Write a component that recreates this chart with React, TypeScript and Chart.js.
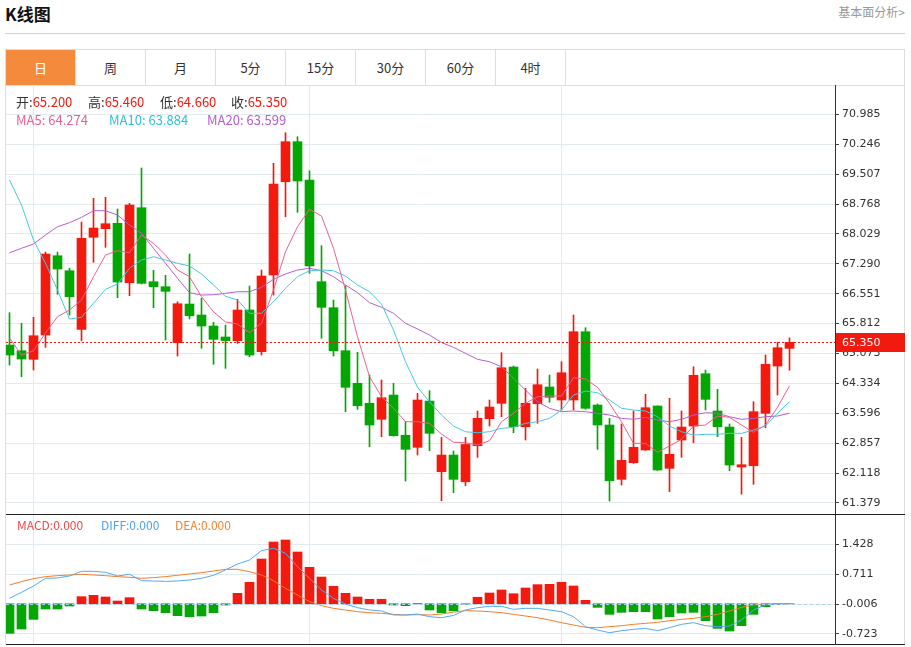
import React, { useEffect, useRef } from 'react';
import { Chart, registerables } from 'chart.js';

Chart.register(...registerables);

const OPEN = [65.283, 65.142, 64.93, 65.53, 67.49, 67.119, 65.671, 67.945, 68.158, 68.291, 66.823, 68.677, 66.848, 66.724, 65.34, 66.296, 66.025, 65.753, 65.481, 65.389, 66.148, 65.118, 67.013, 69.319, 70.308, 69.361, 66.848, 66.205, 65.142, 64.336, 63.842, 63.447, 64.047, 63.052, 62.755, 63.899, 62.152, 62.564, 61.904, 62.794, 63.461, 63.842, 64.739, 63.264, 63.832, 64.245, 63.924, 63.924, 65.612, 63.8, 63.306, 61.964, 62.374, 62.688, 63.776, 62.236, 62.935, 63.281, 64.574, 63.652, 63.256, 62.268, 62.3, 63.595, 64.764, 65.2];
const HIGH = [66.081, 65.819, 65.968, 67.58, 67.58, 67.179, 68.323, 68.909, 68.934, 68.644, 68.785, 69.658, 67.129, 67.006, 66.353, 67.532, 66.437, 65.844, 65.777, 66.413, 66.741, 67.137, 69.774, 70.53, 70.431, 69.591, 67.737, 66.395, 66.741, 65.103, 64.542, 64.418, 64.336, 63.387, 64.089, 64.154, 63.001, 62.663, 63.001, 63.652, 63.924, 65.093, 64.764, 64.213, 64.69, 64.542, 64.87, 66.025, 65.711, 63.825, 63.471, 63.331, 63.652, 64.065, 63.78, 63.966, 63.652, 64.747, 64.665, 64.188, 63.331, 63.001, 63.882, 65.036, 65.35, 65.46];
const LOW = [64.789, 64.5, 64.665, 65.226, 66.536, 66.025, 65.389, 67.327, 67.698, 66.452, 66.502, 66.79, 66.205, 65.407, 65.011, 65.926, 65.202, 64.806, 64.707, 65.325, 64.994, 65.036, 66.519, 68.454, 68.563, 67.055, 65.449, 65.011, 63.635, 63.694, 62.769, 63.017, 63.03, 61.922, 62.564, 62.671, 61.435, 61.633, 61.805, 62.507, 63.281, 63.511, 63.116, 62.935, 63.348, 63.867, 63.677, 63.677, 63.694, 62.705, 61.427, 61.823, 62.359, 62.68, 62.18, 61.657, 62.507, 62.868, 63.677, 63.017, 62.176, 61.6, 61.84, 63.239, 64.047, 64.66];
const CLOSE = [65.036, 64.937, 65.513, 67.532, 67.161, 66.477, 67.92, 68.175, 68.281, 66.84, 68.743, 66.808, 66.724, 66.61, 66.304, 66.007, 65.753, 65.424, 65.389, 66.148, 65.036, 66.988, 69.262, 70.308, 69.337, 67.236, 66.215, 65.142, 64.238, 63.783, 63.306, 63.981, 63.042, 62.705, 63.924, 63.101, 62.564, 61.964, 62.826, 63.471, 63.751, 64.722, 63.264, 63.842, 64.302, 63.99, 64.598, 65.612, 63.719, 63.306, 61.929, 62.433, 62.755, 63.734, 62.194, 62.582, 63.256, 64.534, 63.941, 63.264, 62.317, 62.325, 63.635, 64.806, 65.216, 65.35];

const MA5 = [65.456, 65.036, 65.142, 65.58, 65.983, 66.148, 66.395, 66.971, 67.507, 67.614, 67.564, 68.002, 67.797, 67.507, 67.137, 66.971, 66.477, 66.106, 65.852, 65.802, 65.587, 65.819, 66.642, 67.589, 68.207, 68.637, 68.471, 67.673, 66.642, 65.488, 64.5, 64.005, 63.719, 63.387, 63.387, 63.348, 63.083, 62.881, 62.868, 62.812, 62.918, 63.387, 63.595, 63.842, 64.005, 64.023, 64.023, 64.475, 64.443, 64.238, 63.842, 63.387, 62.854, 62.854, 62.631, 62.787, 62.952, 63.281, 63.306, 63.528, 63.496, 63.306, 63.125, 63.306, 63.743, 64.274];
const MA10 = [69.361, 68.743, 67.878, 67.302, 66.642, 65.926, 65.968, 66.314, 66.66, 66.791, 67.179, 67.384, 67.465, 67.384, 67.302, 67.236, 67.038, 66.766, 66.487, 66.395, 66.067, 66.067, 66.353, 66.685, 66.971, 67.119, 67.137, 67.119, 66.988, 66.766, 66.6, 66.296, 65.654, 64.87, 64.238, 63.882, 63.553, 63.281, 63.14, 63.116, 63.14, 63.224, 63.249, 63.348, 63.387, 63.471, 63.677, 64.047, 64.146, 64.104, 63.924, 63.719, 63.677, 63.652, 63.511, 63.281, 63.14, 63.059, 63.076, 63.076, 63.101, 63.101, 63.182, 63.281, 63.595, 63.884];
const MA20 = [67.564, 67.673, 67.779, 68.002, 68.207, 68.306, 68.439, 68.602, 68.602, 68.496, 68.249, 68.044, 67.673, 67.302, 66.932, 66.576, 66.519, 66.526, 66.561, 66.6, 66.6, 66.709, 66.907, 67.038, 67.137, 67.179, 67.119, 66.971, 66.766, 66.576, 66.329, 66.215, 66.067, 65.819, 65.679, 65.53, 65.345, 65.226, 65.078, 64.93, 64.87, 64.747, 64.46, 64.171, 63.882, 63.719, 63.635, 63.652, 63.635, 63.595, 63.553, 63.471, 63.447, 63.496, 63.429, 63.387, 63.447, 63.553, 63.61, 63.595, 63.511, 63.447, 63.471, 63.511, 63.528, 63.599];

const MACD = [-0.71, -0.606, -0.374, -0.126, -0.126, -0.054, 0.17, 0.202, 0.162, 0.066, 0.146, -0.126, -0.166, -0.214, -0.286, -0.31, -0.294, -0.214, -0.03, 0.25, 0.514, 1.073, 1.481, 1.529, 1.241, 0.874, 0.641, 0.418, 0.25, 0.162, 0.107, 0.107, -0.03, -0.046, 0.005, -0.15, -0.214, -0.17, -0.01, 0.155, 0.258, 0.33, 0.241, 0.378, 0.458, 0.466, 0.514, 0.426, 0.083, -0.086, -0.254, -0.206, -0.19, -0.19, -0.366, -0.31, -0.222, -0.206, -0.406, -0.59, -0.654, -0.526, -0.254, -0.07, -0.01, 0];
const DIFF = [0.13, 0.274, 0.426, 0.61, 0.618, 0.666, 0.778, 0.778, 0.754, 0.666, 0.706, 0.553, 0.545, 0.537, 0.545, 0.57, 0.61, 0.682, 0.81, 0.953, 1.049, 1.273, 1.33, 1.209, 0.889, 0.61, 0.33, 0.13, -0.006, -0.094, -0.15, -0.174, -0.27, -0.27, -0.246, -0.31, -0.334, -0.28, -0.15, -0.094, -0.062, -0.062, -0.134, -0.11, -0.11, -0.15, -0.19, -0.31, -0.55, -0.63, -0.694, -0.646, -0.614, -0.59, -0.646, -0.574, -0.494, -0.454, -0.526, -0.55, -0.534, -0.39, -0.15, -0.03, -0.006, 0];
const DEA = [0.45, 0.53, 0.602, 0.65, 0.674, 0.69, 0.706, 0.69, 0.674, 0.65, 0.634, 0.61, 0.626, 0.65, 0.682, 0.714, 0.746, 0.786, 0.826, 0.826, 0.77, 0.69, 0.553, 0.37, 0.21, 0.05, -0.046, -0.11, -0.15, -0.19, -0.214, -0.23, -0.254, -0.27, -0.262, -0.27, -0.246, -0.2, -0.166, -0.174, -0.19, -0.214, -0.254, -0.294, -0.334, -0.39, -0.454, -0.51, -0.566, -0.574, -0.55, -0.526, -0.494, -0.47, -0.446, -0.406, -0.374, -0.35, -0.31, -0.254, -0.174, -0.086, -0.03, -0.006, 0, 0];

const PRICE_TICKS = [70.985, 70.246, 69.507, 68.768, 68.029, 67.29, 66.551, 65.812, 65.073, 64.334, 63.596, 62.857, 62.118, 61.379];
const MACD_TICKS = [1.428, 0.711, -0.006, -0.723];
const MONTH_START = [2, 25, 46];
const LAST_PRICE = 65.35;
const TABS = ['日', '周', '月', '5分', '15分', '30分', '60分', '4时'];

const RED = '#f2190e';
const GREEN = '#04a604';
const GRID = '#e2eaf0';
const C_MA5 = '#ec5f90';
const C_MA10 = '#45c8df';
const C_MA20 = '#b35fcc';
const C_DIFF = '#55a8ef';
const C_DEA = '#f47c2a';
const AXIS_FONT = { family: '"DejaVu Sans", sans-serif', size: 11 };

const X_MIN = -0.2917;
const X_MAX = 68.7917;

function xScale() {
  return {
    type: 'linear' as const,
    min: X_MIN,
    max: X_MAX,
    offset: false,
    afterBuildTicks: (s: any) => {
      s.ticks = MONTH_START.map((v) => ({ value: v }));
    },
    afterFit: (s: any) => {
      s.height = 0;
      s.paddingLeft = 0;
      s.paddingRight = 0;
    },
    grid: { color: GRID, drawTicks: false, offset: false },
    border: { display: false },
    ticks: { display: false },
  };
}

function yScale(min: number, max: number, ticks: number[]) {
  return {
    position: 'right' as const,
    min,
    max,
    afterBuildTicks: (s: any) => {
      s.ticks = ticks.map((v) => ({ value: v }));
    },
    afterFit: (s: any) => {
      s.width = 70;
      s.paddingTop = 0;
      s.paddingBottom = 0;
    },
    grid: { color: GRID, tickColor: '#444', tickLength: 4, drawTicks: true },
    border: { display: true, color: '#333' },
    ticks: {
      padding: 3,
      color: '#333',
      font: AXIS_FONT,
      callback: (v: any) => Number(v).toFixed(3),
    },
  };
}

const lastPricePlugin = {
  id: 'lastPrice',
  afterDraw(chart: any) {
    const { ctx, chartArea, scales } = chart;
    const y = Math.round(scales.y.getPixelForValue(LAST_PRICE)) + 0.5;
    ctx.save();
    ctx.strokeStyle = RED;
    ctx.lineWidth = 1;
    ctx.setLineDash([2, 2]);
    ctx.beginPath();
    ctx.moveTo(chartArea.left, y);
    ctx.lineTo(chartArea.right, y);
    ctx.stroke();
    ctx.setLineDash([]);
    ctx.fillStyle = RED;
    ctx.fillRect(chartArea.right + 1, y - 9.5, chart.width - chartArea.right - 1, 19);
    ctx.fillStyle = '#ffffff';
    ctx.font = '11px "DejaVu Sans", sans-serif';
    ctx.textBaseline = 'middle';
    ctx.textAlign = 'left';
    ctx.fillText(LAST_PRICE.toFixed(3), chartArea.right + 7, y + 0.5);
    ctx.restore();
  },
};

const zeroLinePlugin = {
  id: 'zeroLine',
  afterDatasetsDraw(chart: any) {
    const { ctx, chartArea, scales } = chart;
    const y = Math.round(scales.y.getPixelForValue(0)) + 0.5;
    ctx.save();
    ctx.strokeStyle = '#a9d3ee';
    ctx.lineWidth = 1;
    ctx.setLineDash([3, 3]);
    ctx.beginPath();
    ctx.moveTo(chartArea.left, y);
    ctx.lineTo(chartArea.right, y);
    ctx.stroke();
    ctx.restore();
  },
};

export default function App() {
  const priceRef = useRef<HTMLCanvasElement>(null);
  const macdRef = useRef<HTMLCanvasElement>(null);

  useEffect(() => {
    const idx = CLOSE.map((_, i) => i);
    const candleColors = idx.map((i) => (CLOSE[i] >= OPEN[i] ? RED : GREEN));
    const line = (arr: number[], color: string, order: number) => ({
      type: 'line' as const,
      data: arr.map((v, i) => ({ x: i, y: v })),
      borderColor: color,
      borderWidth: 1,
      pointRadius: 0,
      tension: 0,
      fill: false,
      order,
    });

    const price = new Chart(priceRef.current as HTMLCanvasElement, {
      type: 'bar',
      data: {
        datasets: [
          line(MA5, C_MA5, 0) as any,
          line(MA10, C_MA10, 0) as any,
          line(MA20, C_MA20, 0) as any,
          {
            type: 'bar',
            data: idx.map((i) => ({ x: i, y: [OPEN[i], CLOSE[i]] })),
            backgroundColor: candleColors,
            borderWidth: 0,
            barThickness: 9,
            minBarLength: 1,
            grouped: false,
            order: 1,
          } as any,
          {
            type: 'bar',
            data: idx.map((i) => ({ x: i, y: [LOW[i], HIGH[i]] })),
            backgroundColor: candleColors,
            borderWidth: 0,
            barThickness: 1,
            grouped: false,
            order: 2,
          } as any,
        ],
      },
      options: {
        animation: false,
        responsive: false,
        devicePixelRatio: 1,
        events: [],
        layout: { padding: 0 },
        plugins: { legend: { display: false }, tooltip: { enabled: false } },
        scales: {
          x: xScale() as any,
          y: yScale(61.107, 71.709, PRICE_TICKS) as any,
        },
      },
      plugins: [lastPricePlugin],
    });

    const macd = new Chart(macdRef.current as HTMLCanvasElement, {
      type: 'bar',
      data: {
        datasets: [
          line(DIFF, C_DIFF, 0) as any,
          line(DEA, C_DEA, 0) as any,
          {
            type: 'bar',
            data: idx.map((i) => ({ x: i, y: MACD[i] })),
            backgroundColor: MACD.map((v) => (v >= 0 ? RED : GREEN)),
            borderWidth: 0,
            barThickness: 9,
            grouped: false,
            order: 1,
          } as any,
        ],
      },
      options: {
        animation: false,
        responsive: false,
        devicePixelRatio: 1,
        events: [],
        layout: { padding: 0 },
        plugins: { legend: { display: false }, tooltip: { enabled: false } },
        scales: {
          x: xScale() as any,
          y: yScale(-0.965, 2.152, MACD_TICKS) as any,
        },
      },
      plugins: [zeroLinePlugin],
    });

    return () => {
      price.destroy();
      macd.destroy();
    };
  }, []);

  const abs = (s: React.CSSProperties): React.CSSProperties => ({ position: 'absolute', ...s });
  const txt = (left: number, top: number, size: number): React.CSSProperties =>
    abs({ left, top, fontSize: size, lineHeight: '16px', whiteSpace: 'nowrap' });

  const ohlc = [
    { k: '开', v: OPEN[OPEN.length - 1], x: 16 },
    { k: '高', v: HIGH[HIGH.length - 1], x: 88 },
    { k: '低', v: LOW[LOW.length - 1], x: 160 },
    { k: '收', v: CLOSE[CLOSE.length - 1], x: 231 },
  ];
  const mas = [
    { k: 'MA5', v: MA5[MA5.length - 1], c: C_MA5, x: 16 },
    { k: 'MA10', v: MA10[MA10.length - 1], c: '#2fbfd8', x: 109 },
    { k: 'MA20', v: MA20[MA20.length - 1], c: C_MA20, x: 207 },
  ];
  const macdLegend = [
    { k: 'MACD', c: '#ee4a48', x: 17 },
    { k: 'DIFF', c: '#4aa4ee', x: 101 },
    { k: 'DEA', c: '#f5832c', x: 175 },
  ];

  return (
    <div
      style={abs({
        left: 0,
        top: 0,
        width: 911,
        height: 647,
        background: '#ffffff',
        overflow: 'hidden',
        fontFamily: '"Noto Sans CJK SC", "Noto Sans", sans-serif',
        color: '#333',
      })}
    >
      <div style={abs({ left: 5, top: 3, fontSize: 17, fontWeight: 'bold', color: '#111', lineHeight: '22px' })}>K线图</div>
      <div style={abs({ right: 6, top: 4, fontSize: 12, color: '#999', lineHeight: '16px' })}>基本面分析&gt;</div>
      <div style={abs({ left: 5, top: 33, width: 900, height: 1, background: '#d2d2d2' })} />

      <div
        style={abs({
          left: 5,
          top: 49,
          width: 900,
          height: 37,
          boxSizing: 'border-box',
          border: '1px solid #dedede',
          display: 'flex',
        })}
      >
        {TABS.map((t, i) => (
          <div
            key={t}
            style={{
              width: 70,
              height: '100%',
              boxSizing: 'border-box',
              borderRight: '1px solid #dedede',
              background: i === 0 ? '#f48b3c' : '#ffffff',
              color: i === 0 ? '#ffffff' : '#333',
              fontSize: 13,
              display: 'flex',
              alignItems: 'center',
              justifyContent: 'center',
            }}
          >
            {t}
          </div>
        ))}
      </div>

      <div style={abs({ left: 5, top: 85, width: 1, height: 560, background: '#dedede' })} />
      <div style={abs({ left: 904, top: 85, width: 1, height: 560, background: '#dedede' })} />

      <canvas ref={priceRef} width={899} height={429} style={abs({ left: 6, top: 85, width: 899, height: 429 })} />
      <canvas ref={macdRef} width={899} height={130} style={abs({ left: 6, top: 514, width: 899, height: 130 })} />

      <div style={abs({ left: 6, top: 514, width: 899, height: 1, background: '#222' })} />
      <div style={abs({ left: 6, top: 644, width: 899, height: 1, background: '#222' })} />

      {ohlc.map((o) => (
        <div key={o.k} style={txt(o.x, 94, 13)}>
          <span style={{ color: '#333' }}>{o.k}:</span>
          <span style={{ color: RED }}>{o.v.toFixed(3)}</span>
        </div>
      ))}
      {mas.map((m) => (
        <div key={m.k} style={{ ...txt(m.x, 112, 13), color: m.c }}>
          {m.k}: {m.v.toFixed(3)}
        </div>
      ))}
      {macdLegend.map((m) => (
        <div key={m.k} style={{ ...txt(m.x, 517, 12), color: m.c }}>
          {m.k}:0.000
        </div>
      ))}
    </div>
  );
}
